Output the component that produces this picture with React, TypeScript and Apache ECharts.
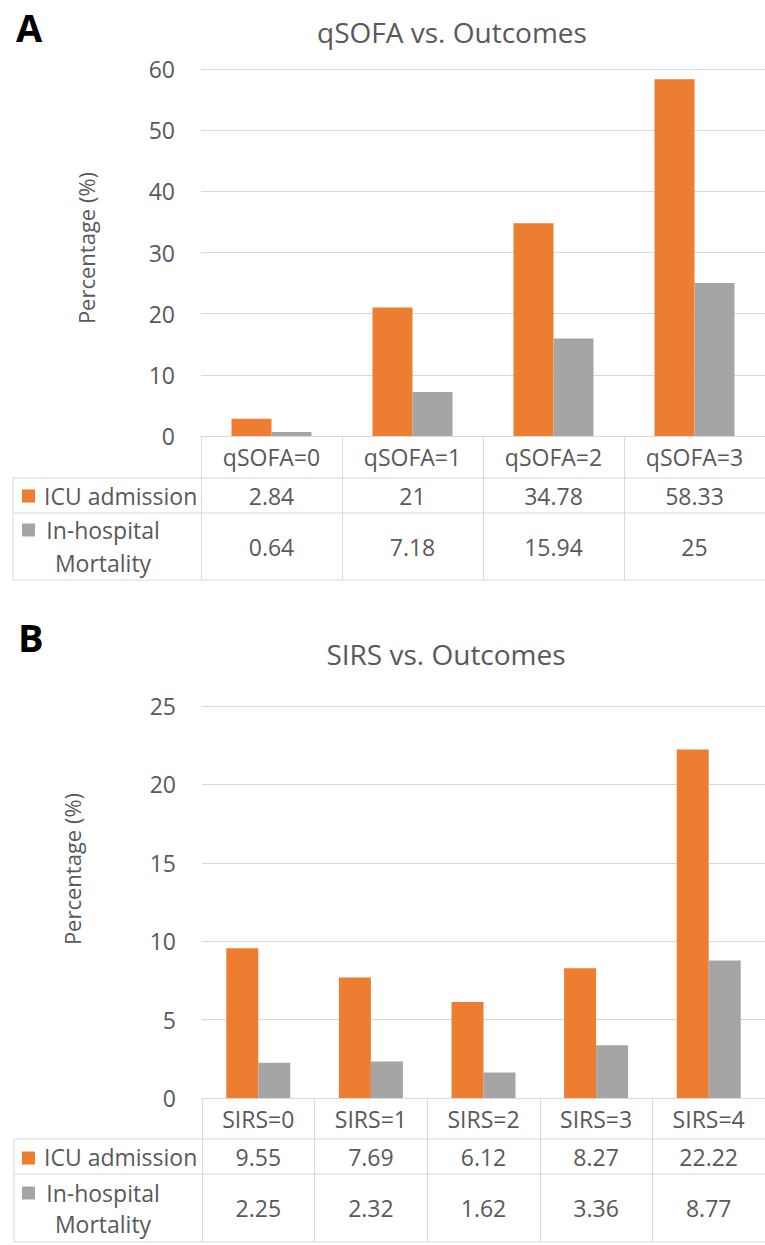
import React, { useEffect, useRef } from "react";
import * as echarts from "echarts";

// Panel A data
const categoriesA = ["qSOFA=0", "qSOFA=1", "qSOFA=2", "qSOFA=3"];
const icuA = [2.84, 21, 34.78, 58.33];
const mortA = [0.64, 7.18, 15.94, 25];
const yMaxA = 60;
const yStepA = 10;

// Panel B data
const categoriesB = ["SIRS=0", "SIRS=1", "SIRS=2", "SIRS=3", "SIRS=4"];
const icuB = [9.55, 7.69, 6.12, 8.27, 22.22];
const mortB = [2.25, 2.32, 1.62, 3.36, 8.77];
const yMaxB = 25;
const yStepB = 5;

const seriesNames = ["ICU admission", "In-hospital\nMortality"];
const titleA = "qSOFA vs. Outcomes";
const titleB = "SIRS vs. Outcomes";
const yName = "Percentage (%)";

const ORANGE = "#ED7D31";
const GRAY = "#A5A5A5";
const TEXT = "#595959";
const LINE = "#D9D9D9";
const FONT = "'Open Sans', sans-serif";

export default function App() {
  const ref = useRef<HTMLDivElement>(null);
  useEffect(() => {
    if (!ref.current) return;
    const chart = echarts.init(ref.current, null, { renderer: "svg" });

    const xAxisFor = (cats: string[], icu: number[], mort: number[], gridIndex: number, rows: number[], tickLen: number) => ({
      type: "category",
      gridIndex,
      data: cats,
      axisLine: { show: true, lineStyle: { color: LINE, width: 1 } },
      axisTick: { show: true, alignWithLabel: false, length: tickLen, lineStyle: { color: LINE, width: 1 } },
      axisLabel: {
        interval: 0,
        margin: 0,
        color: TEXT,
        fontFamily: FONT,
        fontSize: 23,
        formatter: (v: string, i: number) => `{h|${v}}\n{v|${icu[i]}}\n{m|${mort[i]}}`,
        rich: {
          h: { lineHeight: rows[0], fontSize: 23, color: TEXT, fontFamily: FONT },
          v: { lineHeight: rows[1], fontSize: 23, color: TEXT, fontFamily: FONT },
          m: { lineHeight: rows[2], fontSize: 23, color: TEXT, fontFamily: FONT },
        },
      },
    });

    const yAxisFor = (max: number, step: number, gridIndex: number) => ({
      type: "value",
      gridIndex,
      min: 0,
      max,
      interval: step,
      axisLine: { show: false },
      axisTick: { show: false },
      axisLabel: { color: TEXT, fontFamily: FONT, fontSize: 23, margin: 26 },
      splitLine: { show: true, lineStyle: { color: LINE, width: 1 } },
    });

    const hLine = (x1: number, x2: number, y: number) => ({
      type: "line",
      shape: { x1, y1: y, x2, y2: y },
      style: { stroke: LINE, lineWidth: 1 },
      silent: true,
    });
    const vLine = (x: number, y1: number, y2: number) => ({
      type: "line",
      shape: { x1: x, y1, x2: x, y2 },
      style: { stroke: LINE, lineWidth: 1 },
      silent: true,
    });
    const txt = (x: number, y: number, text: string, opts: any = {}) => ({
      type: "text",
      x,
      y,
      style: {
        text,
        fill: opts.fill || TEXT,
        font: `${opts.weight || "normal"} ${opts.size || 23}px ${FONT}`,
        align: opts.align || "center",
        verticalAlign: "middle",
      },
      rotation: opts.rotation || 0,
      silent: true,
    });
    const sq = (x: number, y: number, color: string) => ({
      type: "rect",
      shape: { x, y: y - 6.5, width: 13, height: 13 },
      style: { fill: color },
      silent: true,
    });

    const option: any = {
      animation: false,
      backgroundColor: "#ffffff",
      grid: [
        { left: 201, top: 69, width: 567, height: 367, containLabel: false },
        { left: 202, top: 706, width: 566, height: 392, containLabel: false },
      ],
      xAxis: [
        xAxisFor(categoriesA, icuA, mortA, 0, [42, 35, 67], 144),
        xAxisFor(categoriesB, icuB, mortB, 1, [41, 35, 68], 144),
      ],
      yAxis: [yAxisFor(yMaxA, yStepA, 0), yAxisFor(yMaxB, yStepB, 1)],
      series: [
        { type: "bar", name: "ICU admission", xAxisIndex: 0, yAxisIndex: 0, data: icuA, barWidth: 40, barGap: "0%", itemStyle: { color: ORANGE } },
        { type: "bar", name: "In-hospital Mortality", xAxisIndex: 0, yAxisIndex: 0, data: mortA, barWidth: 40, barGap: "0%", itemStyle: { color: GRAY } },
        { type: "bar", name: "ICU admission", xAxisIndex: 1, yAxisIndex: 1, data: icuB, barWidth: 32, barGap: "0%", itemStyle: { color: ORANGE } },
        { type: "bar", name: "In-hospital Mortality", xAxisIndex: 1, yAxisIndex: 1, data: mortB, barWidth: 32, barGap: "0%", itemStyle: { color: GRAY } },
      ],
      graphic: [
        // Panel labels and titles
        txt(16, 27, "A", { align: "left", size: 38, weight: "bold", fill: "#000000" }),
        txt(18, 637, "B", { align: "left", size: 38, weight: "bold", fill: "#000000" }),
        txt(452, 32, titleA, { size: 28 }),
        txt(446, 654, titleB, { size: 28 }),
        txt(86, 248, yName, { size: 22, rotation: Math.PI / 2 }),
        txt(72, 869, yName, { size: 22, rotation: Math.PI / 2 }),
        // Table A
        hLine(13, 770, 478),
        hLine(13, 770, 513),
        hLine(13, 770, 580),
        vLine(13, 478, 580),
        sq(22, 496, ORANGE),
        txt(44, 496, seriesNames[0], { align: "left" }),
        sq(22, 530, GRAY),
        txt(103, 530, seriesNames[1].split("\n")[0]),
        txt(103, 563, seriesNames[1].split("\n")[1]),
        // Table B
        hLine(14, 770, 1139),
        hLine(14, 770, 1174),
        hLine(14, 770, 1242),
        vLine(14, 1139, 1242),
        sq(22, 1158, ORANGE),
        txt(44, 1157, seriesNames[0], { align: "left" }),
        sq(22, 1193, GRAY),
        txt(103, 1193, seriesNames[1].split("\n")[0]),
        txt(103, 1224, seriesNames[1].split("\n")[1]),
      ],
    };

    chart.setOption(option);
    return () => chart.dispose();
  }, []);

  return (
    <div
      ref={ref}
      style={{ position: "absolute", left: 0, top: 0, width: 765, height: 1245, background: "#fff" }}
    />
  );
}
